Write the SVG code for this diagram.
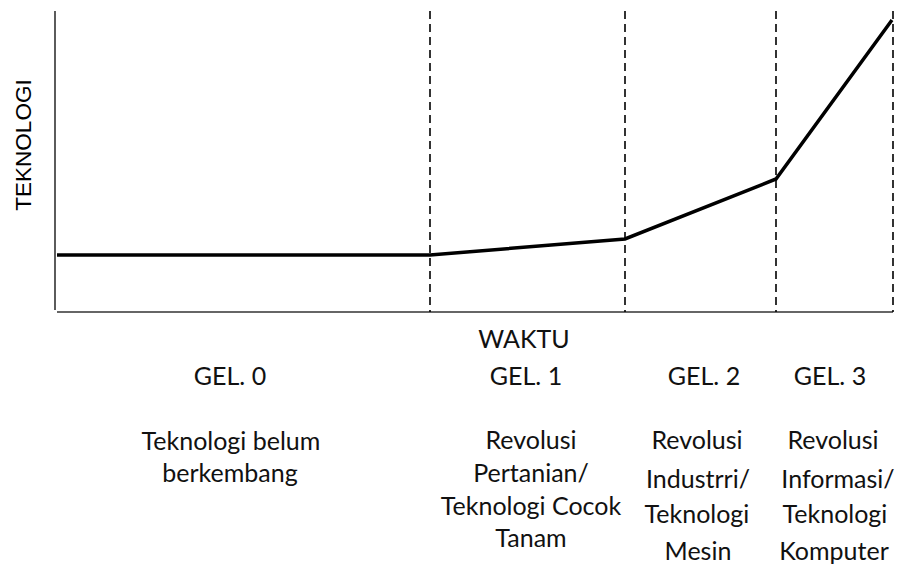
<svg xmlns="http://www.w3.org/2000/svg" width="902" height="565" viewBox="0 0 902 565">
  <style>
    .axis { stroke: #333; stroke-width: 1.6; fill: none; }
    .divider { stroke: #000; stroke-width: 1.6; stroke-dasharray: 8 5; fill: none; }
    .trend { stroke: #000; stroke-width: 3.5; fill: none; stroke-linejoin: miter; }
    .lbl { font-family: Lato, "Liberation Sans", sans-serif; font-size: 25px; fill: #111; text-anchor: middle; }
    .ylbl { font-family: "Liberation Sans", Arial, sans-serif; font-size: 22.5px; fill: #000; text-anchor: middle; }
  </style>

  <rect width="902" height="565" fill="#fff"/>

  <!-- axes -->
  <g id="axes">
    <line class="axis" x1="55" y1="11" x2="55" y2="310"/>
    <line class="axis" x1="57" y1="312" x2="893" y2="312"/>
  </g>

  <!-- era boundaries -->
  <g id="dividers">
    <line class="divider" x1="430" y1="11" x2="430" y2="312"/>
    <line class="divider" x1="625" y1="11" x2="625" y2="312"/>
    <line class="divider" x1="776" y1="11" x2="776" y2="312"/>
    <line class="divider" x1="893" y1="11" x2="893" y2="312"/>
  </g>

  <!-- technology growth curve -->
  <g id="connectors">
    <polyline class="trend" points="57,255 430,255 625,239 776,179 892,20"/>
  </g>

  <g id="y-label">
    <text class="ylbl" transform="translate(31,145) rotate(-90)">TEKNOLOGI</text>
  </g>

  <g id="x-label">
    <text class="lbl" x="524" y="348">WAKTU</text>
  </g>

  <g id="gel0">
    <text class="lbl" x="230" y="385">GEL. 0</text>
    <text class="lbl" x="231" y="450">Teknologi belum</text>
    <text class="lbl" x="230" y="482">berkembang</text>
  </g>

  <g id="gel1">
    <text class="lbl" x="526" y="385">GEL. 1</text>
    <text class="lbl" x="531" y="449">Revolusi</text>
    <text class="lbl" x="531" y="482">Pertanian/</text>
    <text class="lbl" x="531" y="515">Teknologi Cocok</text>
    <text class="lbl" x="531" y="547">Tanam</text>
  </g>

  <g id="gel2">
    <text class="lbl" x="704" y="385">GEL. 2</text>
    <text class="lbl" x="697" y="449">Revolusi</text>
    <text class="lbl" x="698" y="488">Industrri/</text>
    <text class="lbl" x="697" y="523">Teknologi</text>
    <text class="lbl" x="698" y="560">Mesin</text>
  </g>

  <g id="gel3">
    <text class="lbl" x="830" y="385">GEL. 3</text>
    <text class="lbl" x="833" y="449">Revolusi</text>
    <text class="lbl" x="838" y="488">Informasi/</text>
    <text class="lbl" x="835" y="523">Teknologi</text>
    <text class="lbl" x="834" y="560">Komputer</text>
  </g>
</svg>
